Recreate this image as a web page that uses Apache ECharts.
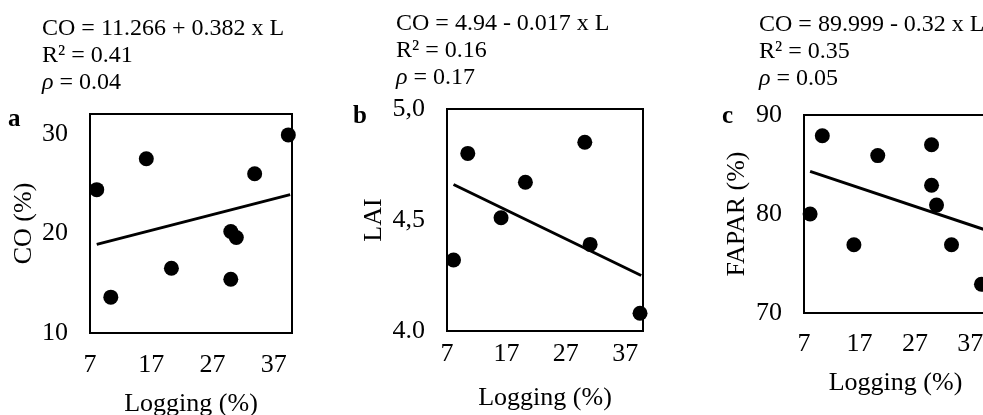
<!DOCTYPE html>
<html>
<head>
<meta charset="utf-8">
<script src="https://cdn.jsdelivr.net/npm/echarts@6/dist/echarts.min.js"></script>
<style>
  html, body { margin: 0; padding: 0; background: #fff; }
  #main { width: 983px; height: 415px; }
</style>
</head>
<body>
<div id="main"></div>
<script>
// panel a: canopy openness
const loggingA = [8.1, 16.2, 10.4, 20.3, 30.0, 30.9, 30.0, 33.9, 39.4];
const coA = [24.4, 27.5, 13.6, 16.5, 20.2, 19.6, 15.4, 26.0, 29.9];
const trendA = [[8.1, 18.9], [39.7, 23.9]];

// panel b: LAI
const loggingB = [8.1, 10.5, 16.1, 20.2, 30.2, 31.1, 39.5];
const laiB = [4.32, 4.80, 4.51, 4.67, 4.85, 4.39, 4.08];
const trendB = [[8.1, 4.66], [39.7, 4.25]];

// panel c: FAPAR
const loggingC = [8.1, 10.3, 16.0, 20.3, 30.0, 30.0, 30.9, 33.6, 39.0];
const faparC = [80.0, 87.9, 76.9, 85.9, 87.0, 82.9, 80.9, 76.9, 72.9];
const trendC = [[8.1, 84.3], [39.7, 78.4]];

const equations = ['CO = 11.266 + 0.382 x L', 'CO = 4.94 - 0.017 x L', 'CO = 89.999 - 0.32 x L'];
const r2 = ['0.41', '0.16', '0.35'];
const rho = ['0.04', '0.17', '0.05'];
const panelLetters = ['a', 'b', 'c'];
const yNames = ['CO (%)', 'LAI', 'FAPAR (%)'];
const laiLabels = { 4: '4.0', 4.5: '4,5', 5: '5,0' };

const font = 'Liberation Serif';
const txt = { fontFamily: font, fontSize: 26, color: '#000', fontWeight: 'normal' };

const zip = (xs, ys) => xs.map((x, i) => [x, ys[i]]);

// outerBoundsMode none: keep the boxes where they are, labels may run to the edge
const grids = [
  { left: 90, top: 114, width: 202, height: 219 },
  { left: 447, top: 109, width: 196, height: 222 },
  { left: 804, top: 115, width: 183, height: 198 }
].map(g => Object.assign(g, {
  show: true, borderColor: '#000', borderWidth: 2, backgroundColor: 'transparent',
  containLabel: false, outerBoundsMode: 'none'
}));

const xLabelMargin = [19, 10, 18];
const xNameGap = [58, 54, 57];
const yNameGap = [53, 60, 54];

const xAxes = [0, 1, 2].map(i => ({
  type: 'value', gridIndex: i, min: 7, max: 40, interval: 10,
  axisLine: { show: false }, axisTick: { show: false }, splitLine: { show: false },
  axisLabel: Object.assign({}, txt, { margin: xLabelMargin[i], showMaxLabel: false }),
  name: 'Logging (%)', nameLocation: 'middle', nameGap: xNameGap[i],
  nameTextStyle: Object.assign({}, txt)
}));

const yRanges = [[10, 32, 10], [4, 5, 0.5], [70, 90, 10]];
const yAxes = [0, 1, 2].map(i => ({
  type: 'value', gridIndex: i, min: yRanges[i][0], max: yRanges[i][1], interval: yRanges[i][2],
  axisLine: { show: false }, axisTick: { show: false }, splitLine: { show: false },
  axisLabel: Object.assign({}, txt, {
    margin: 22,
    showMaxLabel: i !== 0,
    formatter: i === 1 ? (v => laiLabels[v] !== undefined ? laiLabels[v] : '') : (v => String(v))
  }),
  name: yNames[i], nameLocation: 'middle', nameGap: yNameGap[i],
  nameTextStyle: Object.assign({}, txt)
}));

const eqPos = [[42, 15], [396, 10], [759, 11]];
const letterPos = [[8, 107], [353, 104], [722, 104]];

const titles = [];
[0, 1, 2].forEach(i => {
  titles.push({
    left: eqPos[i][0], top: eqPos[i][1], padding: 0,
    text: equations[i] + '\nR² = ' + r2[i] + '\n{i|ρ} = ' + rho[i],
    textStyle: Object.assign({}, txt, { fontSize: 24, lineHeight: 27, rich: { i: { fontFamily: font, fontSize: 24, fontStyle: 'italic' } } })
  });
  titles.push({
    left: letterPos[i][0], top: letterPos[i][1], padding: 0,
    text: panelLetters[i],
    textStyle: Object.assign({}, txt, { fontWeight: 'bold', fontSize: 25 })
  });
});

const pointSets = [zip(loggingA, coA), zip(loggingB, laiB), zip(loggingC, faparC)];
const trends = [trendA, trendB, trendC];
const series = [];
[0, 1, 2].forEach(i => {
  series.push({
    type: 'line', xAxisIndex: i, yAxisIndex: i, data: trends[i],
    symbol: 'none', lineStyle: { color: '#000', width: 3 }, silent: true
  });
  series.push({
    type: 'scatter', xAxisIndex: i, yAxisIndex: i, data: pointSets[i],
    symbolSize: 15, itemStyle: { color: '#000', opacity: 1 }
  });
});

const chart = echarts.init(document.getElementById('main'));
chart.setOption({
  backgroundColor: '#fff',
  animation: false,
  title: titles,
  grid: grids,
  xAxis: xAxes,
  yAxis: yAxes,
  series: series
});
</script>
</body>
</html>
